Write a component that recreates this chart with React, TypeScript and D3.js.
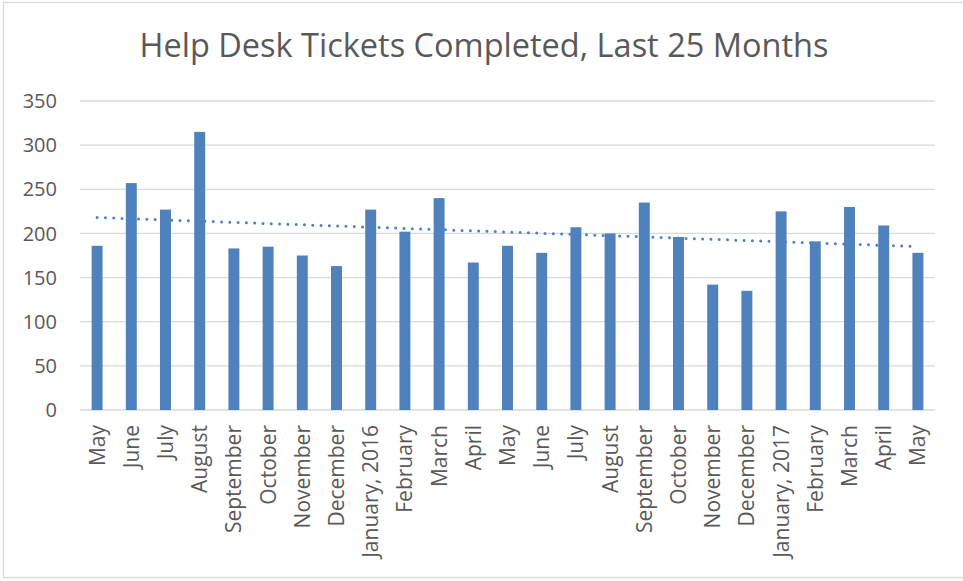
import * as d3 from "d3";
import React from "react";

// months shown on the x axis (25 of them, May 2015 .. May 2017)
const months = [
  "May", "June", "July", "August", "September", "October", "November",
  "December", "January, 2016", "February", "March", "April", "May", "June",
  "July", "August", "September", "October", "November", "December",
  "January, 2017", "February", "March", "April", "May",
];

// tickets completed per month
const tickets = [
  186, 257, 227, 315, 183, 185, 175, 163, 227, 202, 240, 167, 186, 178, 207,
  200, 235, 196, 142, 135, 225, 191, 230, 209, 178,
];

const yTickValues = [0, 50, 100, 150, 200, 250, 300, 350];

const title = "Help Desk Tickets Completed, Last 25 Months";

export default function App({
  width = 963,
  height = 581,
  marginTop = 101,
  marginRight = 28,
  marginBottom = 171,
  marginLeft = 80,
}: {
  width?: number;
  height?: number;
  marginTop?: number;
  marginRight?: number;
  marginBottom?: number;
  marginLeft?: number;
}) {
  const keys = months.map((_, i) => String(i));
  const xScale = d3
    .scaleBand<string>()
    .domain(keys)
    .range([marginLeft, width - marginRight])
    .paddingInner(0.68)
    .paddingOuter(0.34);
  const yScale = d3
    .scaleLinear()
    .domain([0, 350])
    .range([height - marginBottom, marginTop]);

  // Excel-style linear trendline: least squares over index 1..n
  const n = tickets.length;
  const xs = tickets.map((_, i) => i + 1);
  const mx = d3.mean(xs) ?? 0;
  const my = d3.mean(tickets) ?? 0;
  const slope =
    d3.sum(xs, (x, i) => (x - mx) * (tickets[i] - my)) /
    d3.sum(xs, (x) => (x - mx) * (x - mx));
  const intercept = my - slope * mx;
  const cx = (i: number) => (xScale(String(i)) ?? 0) + xScale.bandwidth() / 2;
  const trend = d3
    .line<number>()
    .x((i) => cx(i))
    .y((i) => yScale(intercept + slope * (i + 1)));

  const textColor = "#595959";
  const font = "'Open Sans', sans-serif";

  return (
    <div style={{ position: "absolute", left: 0, top: 0 }}>
      <svg width={width} height={height} style={{ display: "block" }}>
        <rect x={0} y={0} width={width} height={height} fill="#fff" />
        {/* chart border */}
        <rect
          x={3.5}
          y={2.5}
          width={width + 10}
          height={575}
          fill="none"
          stroke="#d9d9d9"
          strokeWidth={1.3}
        />

        <text
          x={484}
          y={57}
          textAnchor="middle"
          fontFamily={font}
          fontSize={32.5}
          fill={textColor}
        >
          {title}
        </text>

        {/* gridlines + y labels */}
        <g fontFamily={font} fontSize={20} fill={textColor} textAnchor="end">
          {yTickValues.map((v) => (
            <g key={v} transform={`translate(0,${yScale(v)})`}>
              <line
                x1={marginLeft}
                x2={width - marginRight}
                stroke="#d9d9d9"
                strokeWidth={1.3}
              />
              <text x={57} dy="0.36em">
                {v}
              </text>
            </g>
          ))}
        </g>

        {/* bars */}
        <g fill="#4f81bd">
          {tickets.map((v, i) => (
            <rect
              key={i}
              x={xScale(String(i))}
              y={yScale(v)}
              width={xScale.bandwidth()}
              height={yScale(0) - yScale(v)}
            />
          ))}
        </g>

        {/* dotted linear trendline */}
        <path
          d={trend(d3.range(n)) ?? ""}
          fill="none"
          stroke="#4f81bd"
          strokeWidth={3}
          strokeLinecap="round"
          strokeDasharray="0 8.3"
        />

        {/* x labels */}
        <g fontFamily={font} fontSize={21} fill={textColor} textAnchor="end">
          {months.map((m, i) => (
            <text
              key={i}
              transform={`translate(${cx(i)},${height - marginBottom + 15}) rotate(-90)`}
              dy="0.36em"
            >
              {m}
            </text>
          ))}
        </g>
      </svg>
    </div>
  );
}
